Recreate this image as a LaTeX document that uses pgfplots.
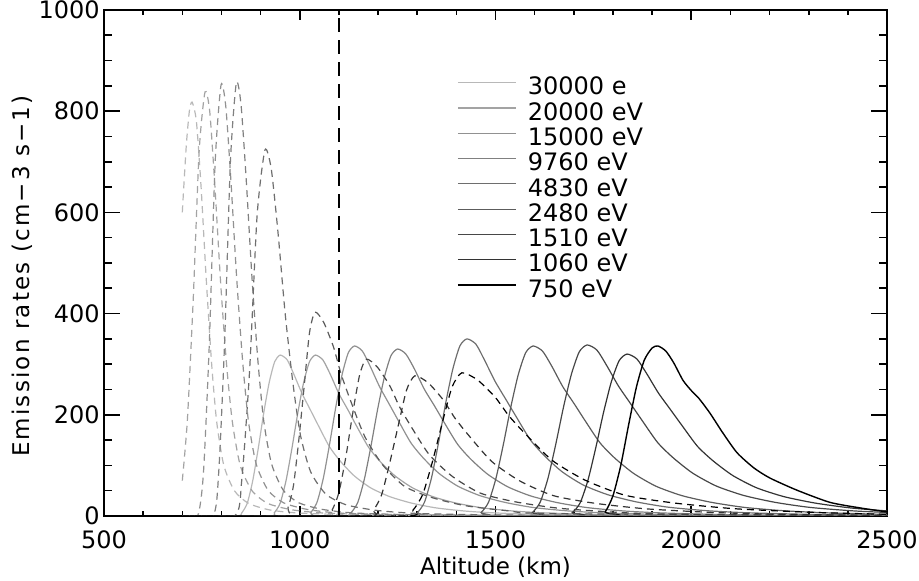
\documentclass[border=0pt]{standalone}
\usepackage{fontspec}
\setmainfont{DejaVu Sans}
\usepackage{pgfplots}
\pgfplotsset{compat=1.18}
\definecolor{g1}{gray}{0.72}
\definecolor{g2}{gray}{0.64}
\definecolor{g3}{gray}{0.57}
\definecolor{g4}{gray}{0.50}
\definecolor{g5}{gray}{0.43}
\definecolor{g6}{gray}{0.36}
\definecolor{g7}{gray}{0.28}
\definecolor{g8}{gray}{0.20}
\definecolor{g9}{gray}{0.0}
\begin{document}
\begin{tikzpicture}
\begin{axis}[
 scale only axis, width=391.5pt, height=253pt,
 xmin=500, xmax=2500, ymin=0, ymax=1000,
 xtick={500,1000,1500,2000,2500}, ytick={0,200,400,600,800,1000},
 minor x tick num=4, minor y tick num=3,
 tick align=inside,
 axis line style={line width=0.8pt},
 every tick/.style={black, line width=0.8pt},
 major tick length=8pt, minor tick length=4pt,
 xtick style={/pgfplots/major tick length=5pt, /pgfplots/minor tick length=2.5pt},
 /pgf/number format/assume math mode=true,
 /pgf/number format/1000 sep={},
 ticklabel style={font=\fontsize{12}{14}\selectfont},
 xticklabel style={anchor=north, inner sep=0pt, yshift=-7pt},
 yticklabel style={anchor=east, inner sep=0pt, xshift=-2pt},
 xlabel={Altitude (km)},
 ylabel={\addfontfeature{LetterSpace=9.5}Emission rates (cm−3 s−1)},
 label style={font=\fontsize{11.5}{14}\selectfont},
 xlabel style={at={(axis description cs:0.5,-0.08)}, anchor=north, inner sep=0pt},
 ylabel style={at={(axis description cs:-0.1175,0.474)}, anchor=north, inner sep=0pt},
 legend style={draw=none, fill=none, at={(axis cs:1402,869)}, anchor=north west,
   inner sep=0pt, outer sep=0pt, row sep=0pt, font=\fontsize{12}{14}\selectfont,
   nodes={inner sep=0pt, text height=9.3pt, text depth=3.35pt}},
 legend cell align=left,
 legend image code/.code={\draw[#1, solid] (0pt,3.15pt) -- (29pt,3.15pt); \path[draw=none] (35pt,3.15pt);},
 every axis plot/.append style={line width=0.6pt},
]
% solid curves
\addplot[g1, smooth, tension=0.4] coordinates {(700,0)(838,0)(852,6.4)(866,25.4)(880,70)(894,133.6)(908,203.5)(922,264)(936,305)(950,318)(968,308.5)(985,280)(1006,241.7)(1027,209.9)(1048,178)(1076,136.7)(1104,108)(1139,79.5)(1181,55.7)(1230,38.2)(1286,25.4)(1349,15.9)(1426,9.5)(1510,5.7)(1650,2.5)(1860,1.0)(2500,0.3)};
\addlegendentry{30000 e}
\addplot[g2, smooth, tension=0.4] coordinates {(700,0)(920,0)(935,6.4)(950,25.4)(965,70)(980,133.6)(995,203.5)(1010,264)(1025,305)(1040,318)(1059,308.5)(1078,280)(1100,241.7)(1123,209.9)(1145,178)(1175,136.7)(1205,108)(1243,79.5)(1288,55.7)(1340,38.2)(1400,25.4)(1468,15.9)(1550,9.5)(1640,5.7)(1790,2.5)(2015,1.0)(2500,0.4)};
\addlegendentry{20000 eV}
\addplot[g3, smooth, tension=0.4] coordinates {(700,0)(1012,0)(1028,6.7)(1044,26.9)(1060,73.9)(1076,141.1)(1092,215)(1108,278.9)(1124,322.6)(1140,336)(1160,325.9)(1180,295.7)(1204,255.4)(1228,221.8)(1252,188.2)(1284,144.5)(1316,114.2)(1356,84)(1404,58.8)(1460,40.3)(1524,26.9)(1596,16.8)(1684,10.1)(1780,6.0)(1940,2.7)(2180,1.0)(2500,0.5)};
\addlegendentry{15000 eV}
\addplot[g4, smooth, tension=0.4] coordinates {(700,0)(1114,0)(1131,6.6)(1148,26.4)(1165,72.6)(1182,138.6)(1199,211.2)(1216,273.9)(1233,316.8)(1250,330)(1271,320.1)(1293,290.4)(1318,250.8)(1344,217.8)(1369,184.8)(1403,141.9)(1437,112.2)(1480,82.5)(1531,57.8)(1590,39.6)(1658,26.4)(1735,16.5)(1828,9.9)(1930,5.9)(2100,2.6)(2355,1.0)(2500,0.7)};
\addlegendentry{9760 eV}
\addplot[g5, smooth, tension=0.4] coordinates {(700,0)(1283,0)(1301,7)(1319,28)(1337,77)(1355,147)(1373,224)(1391,290.5)(1409,336)(1427,350)(1450,339.5)(1472,308)(1499,266)(1526,231)(1553,196)(1589,150.5)(1625,119)(1670,87.5)(1724,61.3)(1787,42)(1859,28)(1940,17.5)(2039,10.5)(2147,6.3)(2327,2.8)(2500,1.5)};
\addlegendentry{4830 eV}
\addplot[g6, smooth, tension=0.4] coordinates {(700,0)(1444,0)(1463,6.7)(1482,26.9)(1501,73.9)(1520,141.1)(1539,215)(1558,278.9)(1577,322.6)(1596,336)(1620,325.9)(1644,295.7)(1672,255.4)(1701,221.8)(1729,188.2)(1767,144.5)(1805,114.2)(1853,84)(1910,58.8)(1976,40.3)(2052,26.9)(2138,16.8)(2242,10.1)(2356,6.0)(2500,3.2)};
\addlegendentry{2480 eV}
\addplot[g7, smooth, tension=0.4] coordinates {(700,0)(1574,0)(1594,6.8)(1614,27)(1634,74.4)(1654,142)(1674,216.3)(1694,280.5)(1714,324.5)(1734,338)(1759,327.9)(1784,297.4)(1814,256.9)(1844,223.1)(1874,189.3)(1914,145.3)(1954,114.9)(2004,84.5)(2064,59.2)(2134,40.6)(2214,27)(2304,16.9)(2414,10.1)(2500,7)};
\addlegendentry{1510 eV}
\addplot[g8, smooth, tension=0.4] coordinates {(700,0)(1676,0)(1696,6.4)(1716,25.6)(1736,70.4)(1756,134.4)(1776,204.8)(1796,265.6)(1816,307.2)(1836,320)(1861,310.4)(1886,281.6)(1916,243.2)(1946,211.2)(1976,179.2)(2016,137.6)(2056,108.8)(2106,80)(2166,56)(2236,38.4)(2316,25.6)(2406,16)(2500,10)};
\addlegendentry{1060 eV}
\addplot[g9, smooth, tension=0.4, line width=0.7pt] coordinates {(700,0)(1759,0)(1780,8)(1800,40)(1820,100)(1840,180)(1860,255)(1880,308)(1900,332)(1915,336)(1935,326)(1955,303)(1979,268)(2000,248)(2020,232)(2048,203)(2080,165)(2117,125)(2160,95)(2201,75)(2270,51)(2354,27)(2431,16)(2500,8)};
\addlegendentry{750 eV}
% dashed curves
\addplot[g1, smooth, tension=0.4, dash pattern=on 3.5pt off 2.5pt, forget plot] coordinates {(700,600)(710,730)(718,800)(725,818)(736,780)(748,650)(761,470)(775,300)(788,185)(806,100)(833,50)(869,25)(923,12)(995,6)(1130,2.5)(1400,1)(2500,0.2)};
\addplot[g2, smooth, tension=0.4, dash pattern=on 3.5pt off 2.5pt, forget plot] coordinates {(700,70)(713,190)(728,430)(743,720)(758,838)(770,800)(783,655)(798,460)(813,300)(828,185)(848,100)(878,50)(918,25)(978,12.5)(1058,6)(1208,2.5)(1500,1)(2500,0.2)};
\addplot[g3, smooth, tension=0.4, dash pattern=on 3.5pt off 2.5pt, forget plot] coordinates {(700,0)(739,0)(754,85)(769,341)(784,700)(799,852)(811,810)(824,665)(839,469)(854,307)(869,187)(889,102)(919,51)(959,26)(1019,13)(1099,6)(1249,2.6)(1500,1)(2500,0.2)};
\addplot[g4, smooth, tension=0.4, dash pattern=on 3.5pt off 2.5pt, forget plot] coordinates {(700,0)(778,0)(793,86)(808,342)(823,702)(838,856)(850,813)(863,668)(878,471)(893,308)(908,188)(928,103)(958,51)(998,26)(1058,13)(1138,6)(1288,2.6)(1600,1)(2500,0.3)};
\addplot[g5, smooth, tension=0.4, dash pattern=on 3.5pt off 2.5pt, forget plot] coordinates {(700,0)(833,0)(852,72)(872,289)(891,593)(911,723)(927,687)(944,564)(963,398)(983,260)(1002,159)(1028,87)(1067,43)(1119,22)(1197,11)(1301,5)(1496,2.2)(1800,1)(2500,0.3)};
\addplot[g6, smooth, tension=0.4, dash pattern=on 3.5pt off 2.5pt, forget plot] coordinates {(700,0)(957,0)(970,16.1)(984,60.5)(998,153.1)(1012,262)(1025,362.7)(1039,403)(1061,382.9)(1086,334.5)(1105,282.1)(1127,233.7)(1166,157.2)(1212,100.8)(1268,58.4)(1338,36.3)(1424,20.2)(1534,10.1)(1644,4.8)(2500,0.5)};
\addplot[g7, smooth, tension=0.4, dash pattern=on 3.5pt off 2.5pt, forget plot] coordinates {(700,0)(1065,0)(1083,12.4)(1100,46.5)(1118,117.8)(1135,201.5)(1153,279)(1170,310)(1198,294.5)(1230,257.3)(1254,217)(1282,179.8)(1331,120.9)(1391,77.5)(1462,45)(1551,27.9)(1660,15.5)(1800,7.8)(1940,3.7)(2500,0.6)};
\addplot[g8, smooth, tension=0.4, dash pattern=on 3.5pt off 2.5pt, forget plot] coordinates {(700,0)(1167,0)(1188,11.1)(1209,41.6)(1230,105.3)(1252,180)(1273,249.3)(1294,277)(1328,263.2)(1366,229.9)(1396,193.9)(1430,160.7)(1490,108)(1562,69.3)(1648,40.2)(1756,24.9)(1889,13.9)(2059,6.9)(2229,3.3)(2500,1.2)};
\addplot[g9, smooth, tension=0.4, dash pattern=on 3.5pt off 2.5pt, forget plot] coordinates {(700,0)(1264,0)(1289,11.3)(1314,42.5)(1339,107.5)(1364,184)(1389,254.7)(1414,283)(1454,268.9)(1499,234.9)(1534,198.1)(1574,164.1)(1644,110.4)(1729,70.8)(1831,41)(1958,25.5)(2114,14.2)(2314,7.1)(2500,3.4)};
% vertical reference line
\addplot[black, line width=1.4pt, dash pattern=on 7pt off 4pt, forget plot] coordinates {(1100,0)(1100,1000)};
\end{axis}
\pgfresetboundingbox
\path ([xshift=-52pt,yshift=-32.5pt]current axis.south west) rectangle ([xshift=16pt,yshift=5pt]current axis.north east);
\end{tikzpicture}
\end{document}
